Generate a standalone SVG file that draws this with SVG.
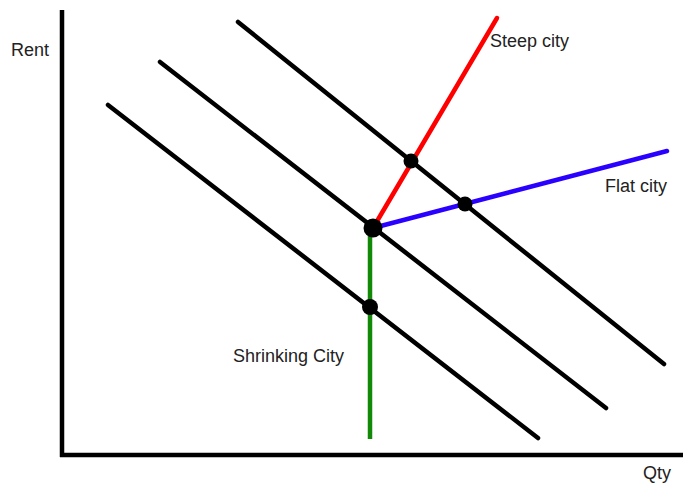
<svg xmlns="http://www.w3.org/2000/svg" width="686" height="490" viewBox="0 0 686 490">
<style>
.ax{stroke:#000;stroke-width:4.5;fill:none}
.ln{stroke:#000;stroke-width:4.5;stroke-linecap:round;fill:none}
.t{font-family:"Liberation Sans",Arial,sans-serif;font-size:18px;fill:#222}
</style>
<rect width="686" height="490" fill="#fff"/>
<g id="axes">
<line class="ax" x1="62" y1="10" x2="62" y2="457"/>
<line class="ax" x1="60" y1="455" x2="683" y2="455"/>
</g>
<g id="connectors">
<line class="ln" x1="108" y1="105" x2="538" y2="438"/>
<line class="ln" x1="160" y1="62" x2="606" y2="408"/>
<line class="ln" x1="238" y1="22" x2="664" y2="364"/>
<line class="ln" style="stroke:#f00" x1="373" y1="228" x2="497" y2="18"/>
<line class="ln" style="stroke:#2a00ff" x1="373" y1="228" x2="667" y2="151"/>
<line class="ln" style="stroke:#138a07;stroke-linecap:butt" x1="370" y1="228" x2="370" y2="439"/>
</g>
<g id="dots" fill="#000">
<circle cx="373" cy="228" r="9.5"/>
<circle cx="411" cy="161" r="7.5"/>
<circle cx="465" cy="204" r="7.5"/>
<circle cx="370" cy="307" r="8"/>
</g>
<g id="labels">
<text class="t" x="11" y="56">Rent</text>
<text class="t" x="643" y="479">Qty</text>
<text class="t" x="490" y="47">Steep city</text>
<text class="t" x="605" y="192">Flat city</text>
<text class="t" x="233" y="362">Shrinking City</text>
</g>
</svg>
